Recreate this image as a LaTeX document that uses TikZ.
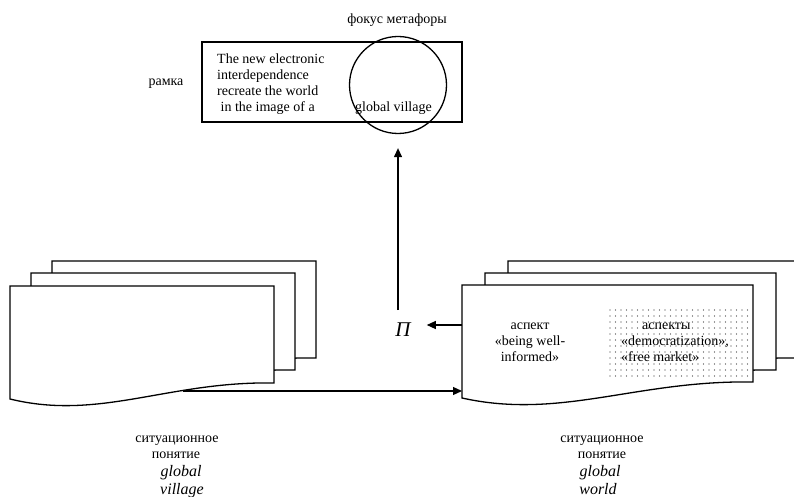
\documentclass[tikz,border=0pt]{standalone}
\usepackage{fontspec}
\setmainfont{Liberation Serif}
\usetikzlibrary{arrows.meta,positioning,calc}

\tikzset{
  paper/.style={fill=white, draw=black, line width=1.3pt},
  link/.style={-{Triangle[length=9pt,width=8pt]}, line width=1.2pt},
  lbl/.style={font=\fontsize{14}{16}\selectfont, inner sep=0pt},
  emph/.style={font=\fontsize{16}{18}\selectfont\itshape, inner sep=0pt},
}

% one sheet of a stack: top left x, top left y, width
\newcommand{\docsheet}[3]{%
  \begin{scope}[shift={(#1,#2)}]
    \filldraw[paper] (0,0) -- (#3,0) -- (#3,97)
      .. controls ({0.6*#3},95) and ({0.34*#3},135) .. (0,113) -- cycle;
  \end{scope}}

\begin{document}
\begin{tikzpicture}[x=1pt,y=-1pt]
  \useasboundingbox (0,0) rectangle (794,497);
  \clip (0,0) rectangle (794,497);

  % metaphor frame and focus
  \node[draw, line width=1.3pt, minimum width=260pt, minimum height=80pt, inner sep=0pt] (frame) at (332,82) {};
  \node[circle, draw, line width=1.3pt, minimum size=97pt, inner sep=0pt] (focus) at (398,85) {};
  \node[lbl] (focuslbl) at (397,20) {фокус метафоры};
  \node[lbl] (ramka) at (166,84) {рамка};
  \foreach \y/\txt in {64/The new electronic, 80/interdependence, 96/recreate the world, 112/{\ in the image of a}} {
    \node[lbl, anchor=base west] (line\y) at (217,\y) {\txt};
  }
  \node[lbl, anchor=base west] (village) at (355,112) {global village};

  % stacks of sheets
  \foreach \x/\y in {52/261, 31/273, 10/286} {
    \docsheet{\x}{\y}{264}
  }
  \foreach \x/\y in {508/261, 485/273, 462/285} {
    \docsheet{\x}{\y}{291}
  }

  % dotted aspects
  \foreach \x in {610,615.5,...,751} {
    \foreach \y in {310,316,...,377} {
      \fill[black!80] (\x,\y) circle (0.65pt);
    }
  }
  \node[lbl, anchor=base west] (asp1) at (642,329) {аспекты};
  \node[lbl, anchor=base west] (asp2) at (621,345) {«democratization»,};
  \node[lbl, anchor=base west] (asp3) at (621,361) {«free market»};

  \foreach \y/\txt in {329/аспект, 345/«being well-, 361/informed»} {
    \node[lbl, anchor=base] (inf\y) at (530,\y) {\txt};
  }

  % captions
  \foreach \x/\y/\txt/\st in {177/442/ситуационное/lbl, 176/458/понятие/lbl, 181/476/global/emph, 182/494/village/emph} {
    \node[\st, anchor=base] (lcap\y) at (\x,\y) {\txt};
  }
  \foreach \x/\y/\txt/\st in {602/442/ситуационное/lbl, 602/458/понятие/lbl, 600/476/global/emph, 598/494/world/emph} {
    \node[\st, anchor=base] (rcap\y) at (\x,\y) {\txt};
  }

  % arrows
  \node[font=\fontsize{21}{21}\selectfont\itshape, inner sep=0pt] (pi) at (403,330) {П};
  \coordinate (pifoot) at (398,310);
  \coordinate (rside) at (462,325);
  \coordinate (lwave) at (183,391);
  \coordinate (rwave) at (462,391);
  \draw[link] (pifoot) -- ($(focus.south)+(0,14)$);
  \draw[link, shorten >=16pt] (rside) -- (rside -| pi.east);
  \draw[link] (lwave) -- (rwave);
\end{tikzpicture}
\end{document}
